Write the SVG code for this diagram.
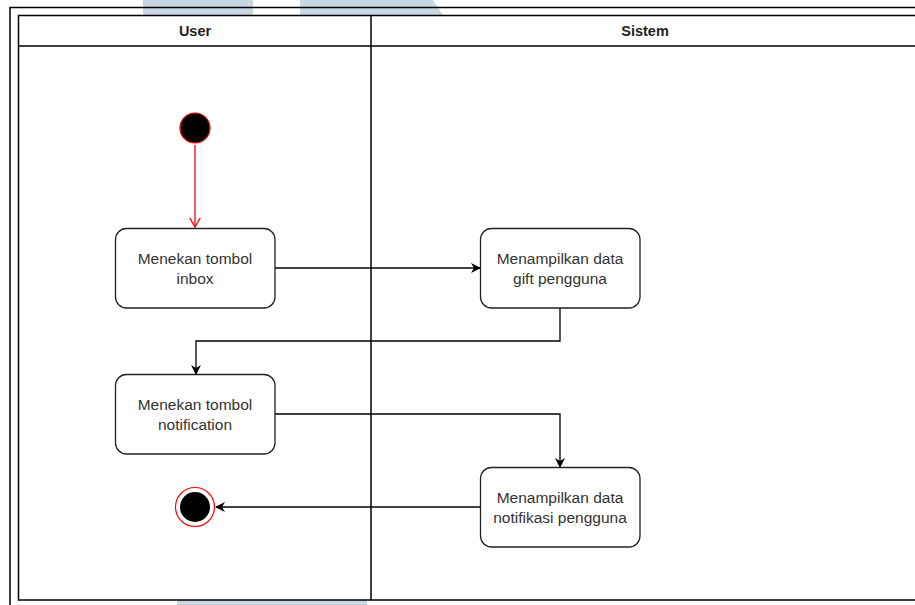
<svg xmlns="http://www.w3.org/2000/svg" width="915" height="605" viewBox="0 0 915 605">
  <defs>
    <style>
      .frame { fill: none; stroke: #000; stroke-width: 1.5; }
      .lane { fill: none; stroke: #000; stroke-width: 1.5; }
      .hdr { font-family: "Liberation Sans", Arial, sans-serif; font-size: 14.5px; font-weight: bold; fill: #222; text-anchor: middle; }
      .act rect { fill: #fff; stroke: #222; stroke-width: 1.3; }
      .act text { font-family: "Liberation Sans", Arial, sans-serif; font-size: 15.5px; fill: #333; text-anchor: middle; }
      .edge { fill: none; stroke: #000; stroke-width: 1.3; }
      .edge-red { fill: none; stroke: #ff0000; stroke-width: 1.3; }
      .wm { fill: #c9d7e3; }
    </style>
    <marker id="arrow" viewBox="0 0 10 10" refX="9" refY="5" markerWidth="10" markerHeight="10" markerUnits="userSpaceOnUse" orient="auto">
      <path d="M0,0 L10,5 L0,10 L3,5 Z" fill="#000"/>
    </marker>
    <marker id="open-red" viewBox="0 0 10 12" refX="9.5" refY="6" markerWidth="10" markerHeight="12" markerUnits="userSpaceOnUse" orient="auto">
      <path d="M0,0.5 L9.5,6 L0,11.5" fill="none" stroke="#ff0000" stroke-width="1.3"/>
    </marker>
  </defs>

  <rect width="915" height="605" fill="#fff"/>

  <!-- faint background bands -->
  <rect class="wm" x="143" y="0" width="110" height="15"/>
  <path class="wm" d="M300,0 L433,0 L443,15 L300,15 Z"/>
  <rect class="wm" x="177" y="600" width="190" height="5"/>

  <!-- outer page frame -->
  <path class="frame" d="M10,605 L10,7.5 L915,7.5" stroke="#444"/>

  <!-- swimlanes -->
  <g id="lanes">
    <rect x="18.5" y="15.5" width="905" height="584.5" class="lane"/>
    <line x1="18.5" y1="46" x2="915" y2="46" class="lane"/>
    <line x1="371" y1="15.5" x2="371" y2="600" class="lane"/>
    <text class="hdr" x="195" y="36">User</text>
    <text class="hdr" x="645" y="36">Sistem</text>
  </g>

  <!-- connectors -->
  <g id="connectors">
    <line class="edge-red" x1="195" y1="145" x2="195" y2="227" marker-end="url(#open-red)"/>
    <line class="edge" x1="275" y1="268" x2="480" y2="268" marker-end="url(#arrow)"/>
    <polyline class="edge" points="560,308 560,341 196,341 196,374" marker-end="url(#arrow)"/>
    <polyline class="edge" points="275,414 560,414 560,467" marker-end="url(#arrow)"/>
    <line class="edge" x1="480" y1="507" x2="216" y2="507" marker-end="url(#arrow)"/>
  </g>

  <!-- start node -->
  <g id="start">
    <circle cx="195" cy="128" r="15" fill="#000" stroke="#ff0000" stroke-width="1.2"/>
  </g>

  <g id="menekan-inbox" class="act">
    <rect x="115.5" y="228.5" width="159.5" height="79.5" rx="11"/>
    <text x="195" y="263.5">Menekan tombol</text>
    <text x="195" y="283.5">inbox</text>
  </g>

  <g id="tampil-gift" class="act">
    <rect x="480.5" y="228.5" width="159.5" height="79.5" rx="11"/>
    <text x="560" y="263.5">Menampilkan data</text>
    <text x="560" y="283.5">gift pengguna</text>
  </g>

  <g id="menekan-notification" class="act">
    <rect x="115.5" y="374.5" width="159.5" height="79.5" rx="11"/>
    <text x="195" y="409.5">Menekan tombol</text>
    <text x="195" y="429.5">notification</text>
  </g>

  <g id="tampil-notifikasi" class="act">
    <rect x="480.5" y="467.5" width="159.5" height="79.5" rx="11"/>
    <text x="560" y="502.5">Menampilkan data</text>
    <text x="560" y="522.5">notifikasi pengguna</text>
  </g>

  <!-- end node -->
  <g id="end">
    <circle cx="195" cy="507" r="19.5" fill="#fff" stroke="#ff0000" stroke-width="1.2"/>
    <circle cx="195" cy="507" r="15" fill="#000"/>
  </g>
</svg>
